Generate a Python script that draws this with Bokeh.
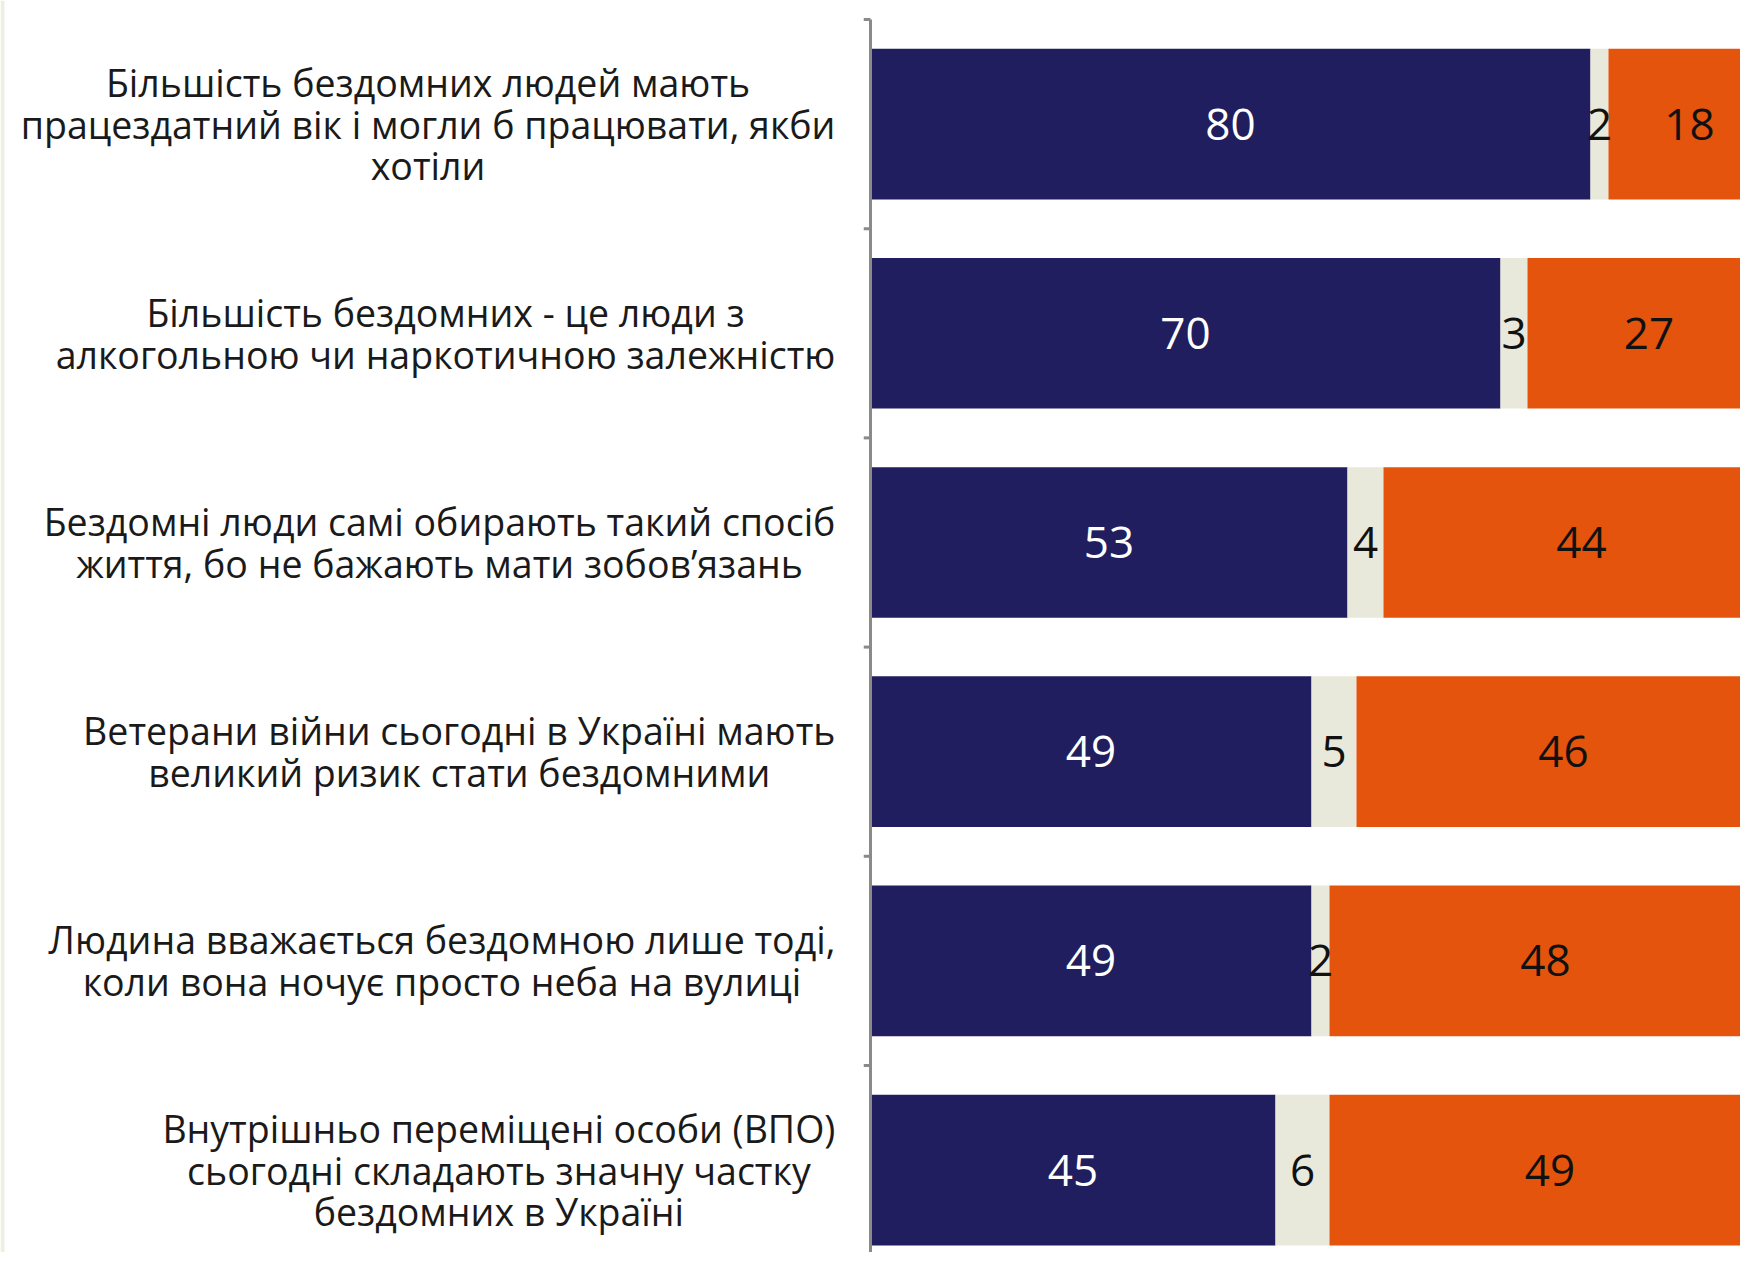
from bokeh.plotting import figure
from bokeh.models import Range1d, ColumnDataSource, BoxAnnotation
from bokeh.core.properties import value
from bokeh.embed import file_html
from bokeh.resources import INLINE

categories = [
    "Більшість бездомних людей мають\nпрацездатний вік і могли б працювати, якби\nхотіли",
    "Більшість бездомних - це люди з\nалкогольною чи наркотичною залежністю",
    "Бездомні люди самі обирають такий спосіб\nжиття, бо не бажають мати зобов’язань",
    "Ветерани війни сьогодні в Україні мають\nвеликий ризик стати бездомними",
    "Людина вважається бездомною лише тоді,\nколи вона ночує просто неба на вулиці",
    "Внутрішньо переміщені особи (ВПО)\nсьогодні складають значну частку\nбездомних в Україні",
]
agree = [80, 70, 53, 49, 49, 45]
hard_to_say = [2, 3, 4, 5, 2, 6]
disagree = [18, 27, 44, 46, 48, 49]

BLUE = "#201E5E"
GREY = "#E8E9DA"
ORANGE = "#E5540C"

n = len(categories)
ypos = [i + 0.5 for i in range(n)]
s1 = [a for a in agree]
s2 = [a + b for a, b in zip(agree, hard_to_say)]
s3 = [a + b + c for a, b, c in zip(agree, hard_to_say, disagree)]

src = ColumnDataSource(dict(
    y=ypos, cat=categories,
    a0=[0] * n, a1=s1, b1=s2, c1=s3,
    am=[v / 2 for v in s1],
    bm=[(x + y) / 2 for x, y in zip(s1, s2)],
    cm=[(x + y) / 2 for x, y in zip(s2, s3)],
    at=[str(v) for v in agree],
    bt=[str(v) for v in hard_to_say],
    ct=[str(v) for v in disagree],
    lx=[-3.9] * n,
))

p = figure(width=1740, height=1252, output_backend="svg", toolbar_location=None,
           x_range=Range1d(-96.67, 96.67), y_range=Range1d(5.894, -0.0908),
           x_axis_type=None, y_axis_type=None, min_border=0)
p.grid.visible = False
p.outline_line_color = None
p.background_fill_color = "white"

p.add_layout(BoxAnnotation(right=4, right_units="screen", fill_color="#EDEFE1",
                           fill_alpha=1, line_color=None))

h = 0.72
p.hbar(y="y", left="a0", right="a1", height=h, source=src, fill_color=BLUE, line_color=None)
p.hbar(y="y", left="a1", right="b1", height=h, source=src, fill_color=GREY, line_color=None)
p.hbar(y="y", left="b1", right="c1", height=h, source=src, fill_color=ORANGE, line_color=None)

num_font = value("Open Sans")
p.text(x="am", y="y", text="at", source=src, text_color="white", text_font=num_font,
       text_font_size="44px", text_align="center", text_baseline="middle")
p.text(x="bm", y="y", text="bt", source=src, text_color="#111111", text_font=num_font,
       text_font_size="44px", text_align="center", text_baseline="middle")
p.text(x="cm", y="y", text="ct", source=src, text_color="#111111", text_font=num_font,
       text_font_size="44px", text_align="center", text_baseline="middle")

# category labels (centered lines, block right-aligned next to the axis)
p.text(x="lx", y="y", text="cat", source=src, text_color="#1a1a1a", text_font=value("Open Sans"),
       text_font_size="37.5px", text_align="center", anchor=value("center_right"),
       text_line_height=0.82)

# vertical axis line with boundary ticks
bounds = list(range(n + 1))
p.segment(x0=[0], y0=[0], x1=[0], y1=[n], line_color="#8a8a8a", line_width=3)
p.segment(x0=[-0.75] * len(bounds), y0=bounds, x1=[0] * len(bounds), y1=bounds,
          line_color="#8a8a8a", line_width=3)

open("out.html", "w").write(file_html(p, INLINE))
